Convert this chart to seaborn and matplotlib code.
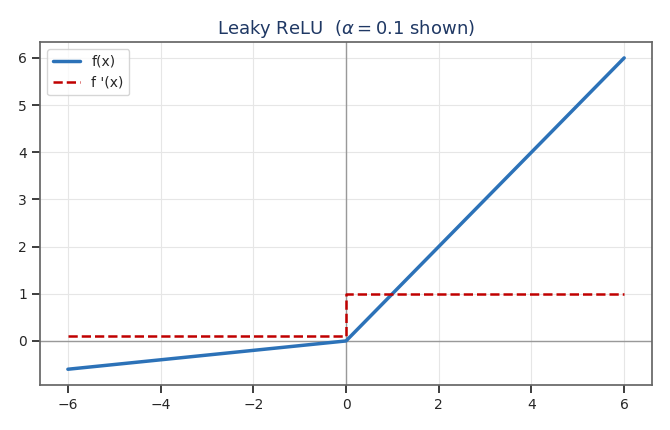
import matplotlib
matplotlib.use("Agg")
import matplotlib.pyplot as plt
import seaborn as sns

# values
x_f = [-6, 0, 6]
y_f = [-0.6, 0, 6]
x_d = [-6, 0, 0, 6]
y_d = [0.1, 0.1, 1, 1]

sns.set_theme(style="ticks")
plt.rcParams['font.family'] = ['DejaVu Sans']

fig, ax = plt.subplots(figsize=(6.7, 4.3), dpi=100)
ax.grid(True, color="#e6e6e6", linewidth=0.8)
ax.set_axisbelow(True)
ax.axhline(0, color="#999999", linewidth=1, zorder=1)
ax.axvline(0, color="#999999", linewidth=1, zorder=1)

sns.lineplot(x=x_f, y=y_f, ax=ax, color="#2c72b8", linewidth=2.5, label="f(x)")
sns.lineplot(x=x_d, y=y_d, ax=ax, color="#c00000", linewidth=1.8,
             linestyle="--", label="f '(x)", sort=False, estimator=None)

ax.set_title(r"Leaky ReLU  ($\alpha = 0.1$ shown)", color="#1f3864", fontsize=13)
ax.set_xticks([-6, -4, -2, 0, 2, 4, 6])
ax.set_yticks([0, 1, 2, 3, 4, 5, 6])
ax.tick_params(labelsize=10)
for s in ax.spines.values():
    s.set_color("#666666")
ax.legend(loc="upper left", fontsize=10)

fig.tight_layout()
fig.savefig("out.png")
